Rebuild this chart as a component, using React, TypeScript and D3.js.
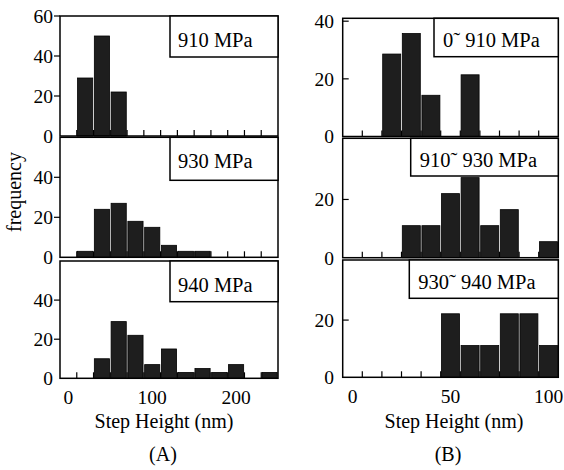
import React from "react";
import * as d3 from "d3";

// bin centres (nm)
const binsA = [20, 40, 60, 80, 100, 120, 140, 160, 180, 200, 220, 240];
const binsB = [0, 10, 20, 30, 40, 50, 60, 70, 80, 90, 100];

// (A) frequency per stress level
const freq910 = [29, 50, 22, 0, 0, 0, 0, 0, 0, 0, 0, 0];
const freq930 = [3, 24, 27, 18, 15, 6, 3, 3, 0, 0, 0, 0];
const freq940 = [0, 10, 29, 22, 7, 15, 3, 5, 3, 7, 0, 3];

// (B) frequency per stress interval
const freq0to910 = [0, 0, 28.6, 35.7, 14.3, 0, 21.4, 0, 0, 0, 0];
const freq910to930 = [0, 0, 0, 11, 11, 22, 27.5, 11, 16.5, 0, 5.5];
const freq930to940 = [0, 0, 0, 0, 0, 22.2, 11.1, 11.1, 22.2, 22.2, 11.1];

const labelsA = ["910 MPa", "930 MPa", "940 MPa"];
const labelsB = ["0\u02dc 910 MPa", "910\u02dc 930 MPa", "930\u02dc 940 MPa"];
const xTicksA = [0, 100, 200];
const xTicksB = [0, 50, 100];
const yTicksA = [[0, 20, 40, 60], [0, 20, 40], [0, 20, 40]];
const yTicksB = [[0, 20, 40], [0, 20], [0, 20]];

const FONT = "'Liberation Serif', 'Times New Roman', serif";

type PanelProps = {
  x0: number;
  x1: number;
  top: number;
  bottom: number;
  xDomain: [number, number];
  yMax: number;
  bins: number[];
  binW: number;
  values: number[];
  edges: number[];
  yTicks: number[];
  tickOut: boolean;
  label: string;
  boxLeft: number;
  boxH: number;
  textX: number;
  textDy: number;
  labelRight: number;
};

function Panel(p: PanelProps) {
  const x = d3.scaleLinear().domain(p.xDomain).range([p.x0, p.x1]);
  const y = d3.scaleLinear().domain([0, p.yMax]).range([p.bottom, p.top]);

  return (
    <g>
      {/* little inward ticks on the bottom edge at bin edges */}
      {p.edges.map((e) => (
        <line key={"e" + e} x1={x(e)} x2={x(e)} y1={p.bottom} y2={p.bottom - 6} stroke="#000" strokeWidth={1.2} />
      ))}
      {p.bins.map((c, i) =>
        p.values[i] > 0 ? (
          <rect
            key={"b" + c}
            x={x(c - p.binW / 2) + 0.8}
            width={x(c + p.binW / 2) - x(c - p.binW / 2) - 1.6}
            y={y(p.values[i])}
            height={p.bottom - y(p.values[i])}
            fill="#1e1e1e"
            stroke="#000"
            strokeWidth={0.8}
          />
        ) : null
      )}
      <rect x={p.x0} y={p.top} width={p.x1 - p.x0} height={p.bottom - p.top} fill="none" stroke="#000" strokeWidth={1.5} />
      {p.yTicks.map((t) => (
        <g key={"y" + t}>
          {t > 0 && (
            <line
              x1={p.tickOut ? p.x0 - 6 : p.x0}
              x2={p.tickOut ? p.x0 : p.x0 + 6}
              y1={y(t)}
              y2={y(t)}
              stroke="#000"
              strokeWidth={1.2}
            />
          )}
          <text x={p.labelRight} y={y(t)} dy="0.35em" textAnchor="end" fontSize={19.5} fontFamily={FONT}>
            {t}
          </text>
        </g>
      ))}
      <rect x={p.boxLeft} y={p.top} width={p.x1 - p.boxLeft} height={p.boxH} fill="#fff" stroke="#000" strokeWidth={1.5} />
      <text x={p.textX} y={p.top + p.textDy} fontSize={20.5} fontFamily={FONT}>
        {p.label}
      </text>
    </g>
  );
}

export default function App() {
  const rowsA: [number, number][] = [[16, 136], [137.3, 257.3], [261, 378.3]];
  const rowsB: [number, number][] = [[18.3, 136.5], [138.3, 257.7], [260, 377.3]];
  const boxHA = [41, 43, 40.7];
  const boxHB = [38.4, 37.7, 38.3];
  const boxLeftB = [434, 410.7, 409.3];
  const seriesA = [freq910, freq930, freq940];
  const seriesB = [freq0to910, freq910to930, freq930to940];

  const xA = d3.scaleLinear().domain([-10, 250]).range([60, 278]);
  const xB = d3.scaleLinear().domain([-5, 105]).range([342.7, 558.3]);

  return (
    <svg width={564} height={470} style={{ position: "absolute", left: 0, top: 0, background: "#fff" }}>
      {rowsA.map((r, i) => (
        <Panel
          key={"A" + i}
          x0={60}
          x1={278}
          top={r[0]}
          bottom={r[1]}
          xDomain={[-10, 250]}
          yMax={60}
          bins={binsA}
          binW={20}
          values={seriesA[i]}
          edges={d3.range(10, 250, 20)}
          yTicks={yTicksA[i]}
          tickOut={true}
          label={labelsA[i]}
          boxLeft={170}
          boxH={boxHA[i]}
          textX={178}
          textDy={31}
          labelRight={53}
        />
      ))}
      {rowsB.map((r, i) => (
        <Panel
          key={"B" + i}
          x0={342.7}
          x1={558.3}
          top={r[0]}
          bottom={r[1]}
          xDomain={[-5, 105]}
          yMax={41}
          bins={binsB}
          binW={10}
          values={seriesB[i]}
          edges={d3.range(5, 100, 10)}
          yTicks={yTicksB[i]}
          tickOut={false}
          label={labelsB[i]}
          boxLeft={boxLeftB[i]}
          boxH={boxHB[i]}
          textX={boxLeftB[i] + 9}
          textDy={28.5}
          labelRight={334}
        />
      ))}

      {xTicksA.map((t) => (
        <text key={"xa" + t} x={xA(t)} y={404} textAnchor="middle" fontSize={19.5} fontFamily={FONT}>
          {t}
        </text>
      ))}
      {xTicksB.map((t) => (
        <text key={"xb" + t} x={xB(t)} y={403} textAnchor="middle" fontSize={19.5} fontFamily={FONT}>
          {t}
        </text>
      ))}

      <text transform="translate(21,192) rotate(-90)" textAnchor="middle" fontSize={20} fontFamily={FONT}>
        frequency
      </text>
      <text x={164} y={428} textAnchor="middle" fontSize={20} fontFamily={FONT}>
        Step Height (nm)
      </text>
      <text x={454} y={428} textAnchor="middle" fontSize={20} fontFamily={FONT}>
        Step Height (nm)
      </text>
      <text x={163} y={461} textAnchor="middle" fontSize={20} fontFamily={FONT}>
        (A)
      </text>
      <text x={448} y={461} textAnchor="middle" fontSize={20} fontFamily={FONT}>
        (B)
      </text>
    </svg>
  );
}
